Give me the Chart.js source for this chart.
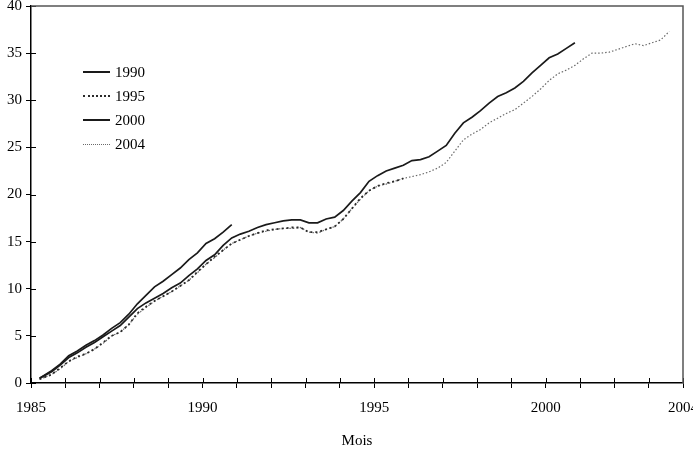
<!DOCTYPE html>
<html>
<head>
<meta charset="utf-8">
<script src="https://cdn.jsdelivr.net/npm/chart.js@4/dist/chart.umd.min.js"></script>
<style>
  html, body { margin: 0; padding: 0; background: #fff; }
  #wrap { position: relative; width: 693px; height: 453px; }
  #legend { position: absolute; left: 83px; top: 60px; font-family: "Liberation Serif", "Times New Roman", serif; font-size: 15px; color: #000; }
  .item { display: flex; align-items: center; height: 24px; }
  .swatch { width: 27px; height: 0; margin-right: 5px; }
</style>
</head>
<body>
<div id="wrap">
  <canvas id="c" width="693" height="453"></canvas>
  <div id="legend"></div>
</div>
<script>
// time (decimal years) of each observation
const t = [1985.25, 1985.60, 1985.85, 1986.10, 1986.35, 1986.60, 1986.85, 1987.10, 1987.35, 1987.60,
           1987.85, 1988.10, 1988.35, 1988.60, 1988.85, 1989.10, 1989.35, 1989.60, 1989.85, 1990.10,
           1990.35, 1990.60, 1990.85, 1991.10, 1991.35, 1991.60, 1991.85, 1992.10, 1992.35, 1992.60,
           1992.85, 1993.10, 1993.35, 1993.60, 1993.85, 1994.10, 1994.35, 1994.60, 1994.85, 1995.10,
           1995.35, 1995.60, 1995.85, 1996.10, 1996.35, 1996.60, 1996.85, 1997.10, 1997.35, 1997.60,
           1997.85, 1998.10, 1998.35, 1998.60, 1998.85, 1999.10, 1999.35, 1999.60, 1999.85, 2000.10,
           2000.35, 2000.60, 2000.85, 2001.10, 2001.35, 2001.60, 2001.85, 2002.10, 2002.35, 2002.60,
           2002.85, 2003.10, 2003.35, 2003.60];

const seriesNames = ["1990", "1995", "2000", "2004"];

const v1990 = [0.5, 1.3, 2.0, 2.9, 3.4, 4.0, 4.5, 5.1, 5.8, 6.4,
               7.3, 8.4, 9.3, 10.2, 10.8, 11.5, 12.2, 13.1, 13.8, 14.8,
               15.3, 16.0, 16.8];

const v1995 = [0.4, 0.9, 1.6, 2.3, 2.8, 3.1, 3.6, 4.3, 5.0, 5.4,
               6.2, 7.4, 8.1, 8.7, 9.2, 9.7, 10.3, 10.9, 11.8, 12.6,
               13.4, 14.1, 14.8, 15.2, 15.6, 15.9, 16.2, 16.3, 16.4, 16.5,
               16.5, 16.0, 16.0, 16.3, 16.6, 17.4, 18.5, 19.6, 20.4, 20.9,
               21.2, 21.4, 21.7];

const v2000 = [0.5, 1.2, 1.9, 2.7, 3.2, 3.8, 4.3, 4.9, 5.5, 6.1,
               7.0, 7.9, 8.5, 9.0, 9.5, 10.1, 10.6, 11.4, 12.1, 13.0,
               13.6, 14.6, 15.4, 15.8, 16.1, 16.5, 16.8, 17.0, 17.2, 17.3,
               17.3, 17.0, 17.0, 17.4, 17.6, 18.3, 19.3, 20.2, 21.4, 22.0,
               22.5, 22.8, 23.1, 23.6, 23.7, 24.0, 24.6, 25.2, 26.5, 27.6,
               28.2, 28.9, 29.7, 30.4, 30.8, 31.3, 32.0, 32.9, 33.7, 34.5,
               34.9, 35.5, 36.1];

const v2004 = [0.4, 0.9, 1.5, 2.3, 2.7, 3.1, 3.6, 4.2, 5.0, 5.4,
               6.2, 7.3, 8.0, 8.7, 9.2, 9.7, 10.3, 10.9, 11.7, 12.6,
               13.3, 14.1, 14.8, 15.2, 15.6, 15.9, 16.1, 16.3, 16.4, 16.4,
               16.5, 16.0, 15.9, 16.3, 16.6, 17.4, 18.5, 19.5, 20.4, 20.9,
               21.1, 21.4, 21.7, 21.9, 22.1, 22.4, 22.8, 23.4, 24.6, 25.8,
               26.4, 26.9, 27.6, 28.1, 28.6, 29.0, 29.7, 30.4, 31.2, 32.1,
               32.8, 33.2, 33.7, 34.4, 35.0, 35.0, 35.1, 35.4, 35.7, 36.0,
               35.8, 36.1, 36.4, 37.3];

const xTickLabels = [1985, 1990, 1995, 2000, 2004];
const yTicks = [0, 5, 10, 15, 20, 25, 30, 35, 40];

const FONT = { family: "'Liberation Serif', 'Times New Roman', serif", size: 15 };

function pts(vals) { return vals.map((y, i) => ({ x: t[i], y })); }

const styles = [
  { borderColor: '#1a1a1a', borderWidth: 1.7, borderDash: [] },
  { borderColor: '#2a2a2a', borderWidth: 1.8, borderDash: [2, 3] },
  { borderColor: '#1a1a1a', borderWidth: 1.7, borderDash: [] },
  { borderColor: '#6a6a6a', borderWidth: 1.2, borderDash: [1.5, 2] }
];
const vals = [v1990, v1995, v2000, v2004];

const datasets = seriesNames.map((name, i) => Object.assign({
  label: name,
  data: pts(vals[i]),
  pointRadius: 0,
  tension: 0,
  fill: false
}, styles[i]));

const frameAndTicks = {
  id: 'frameAndTicks',
  afterDraw(chart) {
    const { ctx, chartArea: a, scales } = chart;
    ctx.save();
    ctx.strokeStyle = '#000';
    ctx.lineWidth = 1;
    // inward half of the crossing tick marks
    scales.x.ticks.forEach(tk => {
      const px = Math.round(scales.x.getPixelForValue(tk.value)) + 0.5;
      ctx.beginPath(); ctx.moveTo(px, a.bottom); ctx.lineTo(px, a.bottom - 5); ctx.stroke();
    });
    scales.y.ticks.forEach(tk => {
      const py = Math.round(scales.y.getPixelForValue(tk.value)) + 0.5;
      ctx.beginPath(); ctx.moveTo(a.left, py); ctx.lineTo(a.left + 5, py); ctx.stroke();
    });
    // top and right frame
    ctx.strokeStyle = '#555';
    ctx.lineWidth = 1.5;
    ctx.beginPath();
    ctx.moveTo(a.left, a.top); ctx.lineTo(a.right, a.top); ctx.lineTo(a.right, a.bottom);
    ctx.stroke();
    ctx.restore();
  }
};

const chart = new Chart(document.getElementById('c'), {
  type: 'line',
  data: { datasets },
  options: {
    responsive: false,
    animation: false,
    layout: { padding: { top: 6, right: 10, left: 7, bottom: 0 } },
    plugins: { legend: { display: false }, tooltip: { enabled: false } },
    scales: {
      x: {
        type: 'linear',
        min: 1985, max: 2004,
        afterFit(s) { s.paddingLeft = 0; s.paddingRight = 0; s.height = 70; },
        afterBuildTicks(s) {
          const arr = [];
          for (let y = 1985; y <= 2004; y++) arr.push({ value: y });
          s.ticks = arr;
        },
        ticks: {
          autoSkip: false, maxRotation: 0, padding: 11, color: '#000', font: FONT,
          callback: v => xTickLabels.includes(v) ? String(v) : ''
        },
        grid: { drawOnChartArea: false, tickLength: 5, color: '#000' },
        border: { color: '#000', width: 1.5 },
        title: { display: true, text: 'Mois', color: '#000', font: FONT, padding: { top: 15, bottom: 3 } }
      },
      y: {
        min: 0, max: 40,
        afterFit(s) { s.paddingTop = 0; s.paddingBottom = 0; s.width = 24; },
        afterBuildTicks(s) { s.ticks = yTicks.map(v => ({ value: v })); },
        ticks: { padding: 4, color: '#000', font: FONT },
        grid: { drawOnChartArea: false, tickLength: 5, color: '#000' },
        border: { color: '#000', width: 1.5 }
      }
    }
  },
  plugins: [frameAndTicks]
});

// HTML legend built from the datasets
const leg = document.getElementById('legend');
chart.data.datasets.forEach(ds => {
  const row = document.createElement('div');
  row.className = 'item';
  const sw = document.createElement('span');
  sw.className = 'swatch';
  const dashed = ds.borderDash && ds.borderDash.length;
  sw.style.borderTop = (ds.borderWidth > 1.5 ? '2px ' : '1px ') + (dashed ? 'dotted ' : 'solid ') + ds.borderColor;
  const tx = document.createElement('span');
  tx.textContent = ds.label;
  row.appendChild(sw); row.appendChild(tx);
  leg.appendChild(row);
});
</script>
</body>
</html>
